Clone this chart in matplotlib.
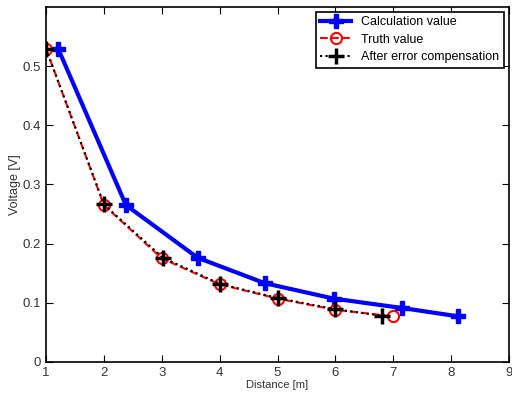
import matplotlib
matplotlib.use("Agg")
import matplotlib.pyplot as plt

plt.rcParams['font.family'] = ['Liberation Sans Narrow', 'Liberation Sans', 'DejaVu Sans']

calc_x = [1.21, 2.38, 3.62, 4.78, 5.97, 7.16, 8.12]
calc_y = [0.529, 0.265, 0.176, 0.133, 0.107, 0.091, 0.077]
truth_x = [1, 2, 3, 4, 5, 6, 7]
truth_y = [0.529, 0.265, 0.175, 0.131, 0.107, 0.088, 0.077]
comp_x = [1, 2, 3.02, 4, 5, 6, 6.81]
comp_y = [0.529, 0.266, 0.176, 0.132, 0.108, 0.089, 0.078]

fig = plt.figure(figsize=(5.12, 4.03), dpi=100)
ax = fig.add_axes([0.09, 0.102, 0.904, 0.881])

ax.plot(calc_x, calc_y, '-', color='blue', lw=3, marker='P', ms=10,
        mfc='blue', mec='blue', label='Calculation value')
ax.plot(truth_x, truth_y, '--', color='red', lw=1.5, marker='o', ms=8,
        mfc='none', mec='red', mew=1.5, label='Truth value')
ax.plot(comp_x, comp_y, ':', color='black', lw=1.5, marker='+', ms=11,
        mec='black', mew=2.5, label='After error compensation')

ax.set_xlim(1, 9)
ax.set_ylim(0, 0.6)
ax.set_xticks(range(1, 10))
ax.set_yticks([0, 0.1, 0.2, 0.3, 0.4, 0.5])
ax.set_yticklabels(['0', '0.1', '0.2', '0.3', '0.4', '0.5'])
ax.tick_params(direction='in', top=True, right=True, labelsize=9.5, length=5,
               labelcolor='#333333')
for s in ax.spines.values():
    s.set_linewidth(1.2)
ax.set_xlabel('Distance [m]', fontsize=8, labelpad=1, color='#333333')
ax.set_ylabel('Voltage [V]', fontsize=9, labelpad=1, color='#333333')

leg = ax.legend(loc='upper right', fontsize=9, fancybox=False, edgecolor='black',
                framealpha=1, borderaxespad=0.4, handlelength=2.5,
                borderpad=0.35, labelspacing=0.45)
leg.get_frame().set_linewidth(1.2)

fig.savefig('out.png', dpi=100)
